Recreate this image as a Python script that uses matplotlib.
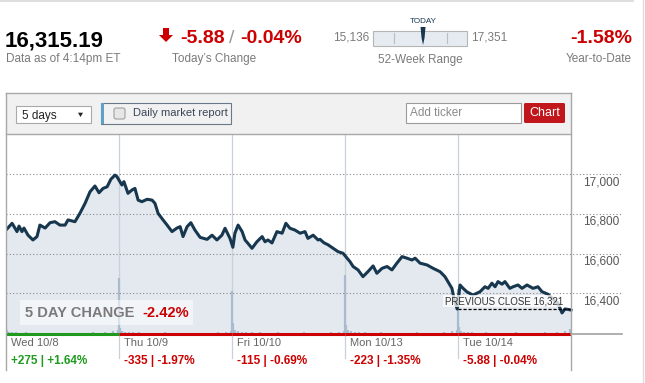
import numpy as np
import matplotlib
matplotlib.use('Agg')
import matplotlib.pyplot as plt
import matplotlib.patches as mpatches

plt.rcParams['font.family'] = ['Liberation Sans', 'DejaVu Sans']

# ---- quote summary ----
last_price = 16315.19
change_pts = -5.88
change_pct = -0.04
week52_low = 15136
week52_high = 17351
ytd_pct = -1.58
prev_close = 16321
five_day_pct = -2.42

day_names = ['Wed 10/8', 'Thu 10/9', 'Fri 10/10', 'Mon 10/13', 'Tue 10/14']
day_chg = [275, -335, -115, -223, -5.88]
day_chg_pct = [1.64, -1.97, -0.69, -1.35, -0.04]

# ---- intraday prices (minutes after the open, 390 min session) ----
wed_min = [0, 21, 38, 45, 55, 62, 76, 93, 107, 117, 135, 152, 169, 186, 204, 214,
           238, 255, 273, 290, 307, 321, 335, 349, 362, 376, 383, 390]
wed_px = [16719, 16753, 16711, 16739, 16711, 16729, 16693, 16669, 16686, 16744, 16729,
          16756, 16761, 16744, 16744, 16770, 16761, 16803, 16854, 16912, 16941, 16907,
          16929, 16937, 16975, 16996, 16988, 16971]
thu_min = [10, 17, 31, 45, 55, 66, 79, 97, 114, 124, 135, 152, 166, 183, 200, 211,
           221, 235, 248, 262, 280, 304, 321, 338, 355, 366, 383]
thu_px = [16946, 16963, 16904, 16921, 16929, 16870, 16862, 16874, 16870, 16854, 16803,
          16770, 16744, 16711, 16729, 16736, 16686, 16736, 16756, 16719, 16682, 16672,
          16693, 16669, 16693, 16728, 16677]
fri_min = [3, 10, 21, 35, 45, 55, 69, 86, 104, 114, 124, 138, 155, 173, 186, 200,
           217, 235, 252, 262, 280, 297, 304, 317, 331, 349, 366, 383]
fri_px = [16632, 16703, 16744, 16711, 16669, 16652, 16627, 16660, 16686, 16660, 16669,
          16654, 16711, 16703, 16753, 16728, 16719, 16703, 16711, 16677, 16693, 16669,
          16672, 16655, 16645, 16627, 16610, 16602]
mon_min = [7, 17, 28, 45, 62, 79, 97, 110, 128, 145, 162, 179, 197, 214, 231, 242,
           259, 283, 304, 328, 345, 355, 369, 376, 387]
mon_px = [16577, 16560, 16535, 16518, 16484, 16509, 16538, 16501, 16526, 16535, 16518,
          16552, 16585, 16577, 16568, 16577, 16552, 16543, 16526, 16509, 16484, 16459,
          16425, 16375, 16321]
tue_min = [7, 17, 31, 52, 76, 93, 104, 117, 128, 138, 152, 162, 179, 190, 207, 221,
           238, 259, 276, 290, 311, 328, 345, 359, 369, 383, 390]
tue_px = [16442, 16426, 16407, 16391, 16408, 16433, 16425, 16451, 16433, 16459, 16446,
          16459, 16425, 16433, 16442, 16425, 16442, 16425, 16433, 16408, 16395, 16370,
          16350, 16301, 16321, 16318, 16315]

# ---- volume (millions), same sampling minutes each day ----
vol_min = [1, 5, 10, 20, 35, 50, 70, 95, 125, 160, 200, 250, 300, 340, 370, 385]
wed_vol = [4.5, 2.0, 1.2, 1.0, 1.0, 0.8, 1.0, 0.8, 0.8, 0.6, 0.8, 0.8, 1.0, 1.0, 1.5, 2.0]
thu_vol = [28, 3.0, 1.5, 1.2, 1.0, 1.0, 1.2, 0.8, 0.8, 1.0, 0.8, 0.6, 0.8, 1.0, 1.2, 1.5]
fri_vol = [21.5, 5.5, 2.0, 1.5, 1.2, 1.0, 1.2, 1.0, 0.8, 1.0, 0.8, 1.0, 0.8, 1.0, 1.2, 1.5]
mon_vol = [29.5, 4.5, 2.0, 1.5, 1.2, 1.0, 1.0, 0.8, 1.0, 0.8, 0.8, 1.0, 0.8, 1.0, 1.5, 2.0]
tue_vol = [22.5, 3.5, 1.5, 1.2, 1.0, 1.0, 0.8, 1.0, 0.8, 0.8, 1.0, 0.8, 1.0, 1.2, 1.5, 2.5]

y_ticks = [16400, 16600, 16800, 17000]

# colours
NAVY = '#17374f'
FILL = '#e4e9f0'
VOLC = '#a9bccf'
RED = '#cc0000'
GREEN = '#1f9a1f'
GREY = '#7a7a7a'

W, H = 645, 383
fig = plt.figure(figsize=(W / 100, H / 100), dpi=100)

# chart area in pixels
AX_L, AX_R, AX_T, AX_B = 6, 622, 134, 334.3
DAY_W = 113
n_days = len(day_names)
x_max = (AX_R - AX_L) / DAY_W
y_lo, y_hi = 16193.3, 17203.2
VOL_TOP = 100.0   # volume that would fill the whole chart height

ax = fig.add_axes([AX_L / W, 1 - AX_B / H, (AX_R - AX_L) / W, (AX_B - AX_T) / H])
ax.set_axis_off()

mins = [wed_min, thu_min, fri_min, mon_min, tue_min]
prices = [wed_px, thu_px, fri_px, mon_px, tue_px]
vols = [wed_vol, thu_vol, fri_vol, mon_vol, tue_vol]
s = np.concatenate([i + np.array(m) / 390 for i, m in enumerate(mins)])
p = np.concatenate([np.array(v, float) for v in prices])

ax.fill_between(s, p, y_lo, color=FILL, lw=0, zorder=1)

# volume bars, scaled into the bottom of the price axis
vscale = (y_hi - y_lo) / VOL_TOP
vs = np.concatenate([i + np.array(vol_min) / 390 for i in range(n_days)])
vv = np.concatenate([np.array(v, float) for v in vols])
ax.vlines(vs, y_lo, y_lo + vv * vscale, color=VOLC, lw=1.6, zorder=2.2)

# day dividers
ymin_div = -(358 - AX_B) / (AX_B - AX_T)
for i in range(1, n_days):
    ax.axvline(i, ymin=ymin_div, ymax=1, color='#c9d0d8', lw=0.9, clip_on=False, zorder=1.5)

# dotted gridlines + labels
for v in y_ticks:
    ax.axhline(v, color='#8a8a8a', lw=0.8, ls=(0, (1, 2)), zorder=3)
    ax.annotate(f'{v:,}', xy=((619 - AX_L) / (AX_R - AX_L), v),
                xycoords=('axes fraction', 'data'), xytext=(0, -10.7 * 0.72),
                textcoords='offset points', ha='right', va='baseline',
                fontsize=8.5, color='#555555')

# price line
ax.plot(s, p, color=NAVY, lw=2.2, zorder=5)

# previous close
ax.plot([n_days - 1, n_days], [prev_close, prev_close], color='black', lw=0.9,
        ls=(0, (2.5, 1.5)), zorder=6)

# coloured baseline per day
for i, c in enumerate(day_chg):
    ax.plot([i, i + 1], [y_lo, y_lo], color=GREEN if c > 0 else RED, lw=2.2,
            solid_capstyle='butt', clip_on=False, zorder=7)
ax.plot([n_days, x_max], [y_lo, y_lo], color='#9a9a9a', lw=1.1, clip_on=False, zorder=7)

ax.set_xlim(0, x_max)
ax.set_ylim(y_lo, y_hi)

# ---- overlay in pixel coordinates ----
ov = fig.add_axes([0, 0, 1, 1], zorder=10)
ov.set_xlim(0, W)
ov.set_ylim(H, 0)
ov.set_axis_off()
ov.patch.set_alpha(0)

ov.plot([0, 633], [0.5, 0.5], color='#d8d8d8', lw=1.2)
ov.plot([643, 643], [0, H], color='#dddddd', lw=1.0)

# header
ov.text(5, 46, f'{last_price:,.2f}', fontsize=16, fontweight='bold', color='black', va='baseline')
ov.text(6, 62, 'Data as of 4:14pm ET', fontsize=8.5, color=GREY, va='baseline')

ov.add_patch(mpatches.Polygon([(163, 28), (169, 28), (169, 35), (173, 35), (166, 42),
                               (159, 35), (163, 35)], closed=True, color=RED, lw=0))
ov.text(180, 43, f'{change_pts:.2f}', fontsize=14, fontweight='bold', color=RED, va='baseline')
ov.text(229, 43, '/', fontsize=14, color='#999999', va='baseline')
ov.text(240, 43, f'{change_pct:.2f}%', fontsize=14, fontweight='bold', color=RED, va='baseline')
ov.text(172, 62, 'Today\u2019s Change', fontsize=8.5, color=GREY, va='baseline')

# 52 week range
bx0, bx1, by0, by1 = 373, 467, 30.7, 45.7
ov.add_patch(mpatches.Rectangle((bx0, by0), bx1 - bx0, by1 - by0, facecolor='#e6ebf1',
                                edgecolor='#b5b5b5', lw=0.8))
for f in (0.225, 0.785):
    xx = bx0 + f * (bx1 - bx0)
    ov.plot([xx, xx], [33, 43], color='#bdbdbd', lw=0.8)
mk = bx0 + (last_price - week52_low) / (week52_high - week52_low) * (bx1 - bx0)
ov.add_patch(mpatches.Polygon([(mk - 2.5, 27), (mk + 2.5, 27), (mk + 1.5, 38), (mk, 45),
                               (mk - 1.5, 38)], closed=True, color=NAVY, lw=0))
ov.text(mk, 22.7, 'TODAY', fontsize=5.8, color=NAVY, ha='center', va='baseline')
ov.text(369, 41, f'{week52_low:,}', fontsize=8.5, color=GREY, ha='right', va='baseline')
ov.text(471, 41, f'{week52_high:,}', fontsize=8.5, color=GREY, ha='left', va='baseline')
ov.text(420, 63, '52-Week Range', fontsize=8.5, color=GREY, ha='center', va='baseline')

ov.text(632, 43, f'{ytd_pct:.2f}%', fontsize=14, fontweight='bold', color=RED,
        ha='right', va='baseline')
ov.text(632, 62.5, 'Year-to-Date', fontsize=8.5, color=GREY, ha='right', va='baseline')

# control bar
PL, PR, PT = 5.7, 571, 93.3
ov.add_patch(mpatches.Rectangle((PL, PT), PR - PL, AX_T - PT, facecolor='#f1f1f1', lw=0))
BORDER = '#a8a8a8'
ov.plot([PL, PR], [PT, PT], color=BORDER, lw=1.0)
ov.plot([PL, PR], [AX_T, AX_T], color=BORDER, lw=1.0)
ov.plot([PL, PL], [PT, 370], color=BORDER, lw=1.0)
ov.plot([PR, PR], [PT, 370], color=BORDER, lw=1.0)

ov.add_patch(mpatches.Rectangle((16, 106), 74.7, 17, facecolor='white', edgecolor='#a9a9a9', lw=0.8))
ov.text(22, 118.5, '5 days', fontsize=8.5, color='#222222', va='baseline')
ov.add_patch(mpatches.Polygon([(78, 112.7), (83, 112.7), (80.5, 117)], closed=True, color='#222222', lw=0))

ov.add_patch(mpatches.Rectangle((101, 103), 130, 21, facecolor='#f1f1f1', edgecolor='#6a7888', lw=0.8))
ov.add_patch(mpatches.Rectangle((101, 103), 3, 21, facecolor='#5fa0c8', lw=0))
ov.add_patch(mpatches.FancyBboxPatch((114, 108), 11, 11, boxstyle='round,pad=0,rounding_size=2',
                                     facecolor='#e6e6e6', edgecolor='#a0a0a0', lw=0.8))
ov.text(133, 116.5, 'Daily market report', fontsize=8, color='#3a4656', va='baseline')

ov.add_patch(mpatches.Rectangle((406, 103), 115, 20, facecolor='white', edgecolor='#9a9a9a', lw=0.8))
ov.text(410, 116.5, 'Add ticker', fontsize=8.5, color='#8a8a8a', va='baseline')
ov.add_patch(mpatches.FancyBboxPatch((524, 103), 41, 20, boxstyle='round,pad=0,rounding_size=1.5',
                                     facecolor='#c1161c', lw=0))
ov.text(544.5, 116.5, 'Chart', fontsize=9, color='white', ha='center', va='baseline')

# 5 day change box
ov.add_patch(mpatches.Rectangle((20, 300), 173, 25, facecolor='white', alpha=0.55, lw=0))
ov.text(25, 317.3, '5 DAY CHANGE', fontsize=10.5, fontweight='bold', color=GREY, va='baseline')
ov.text(142, 317.3, f'{five_day_pct:.2f}%', fontsize=10.5, fontweight='bold', color=RED, va='baseline')

# previous close label
ov.add_patch(mpatches.Rectangle((443, 295), 124, 12, facecolor='white', alpha=0.75, lw=0))
ov.text(445, 304, f'PREVIOUS CLOSE {prev_close:,}', fontsize=7, color='#333333', va='baseline')

# day labels
for i, (nm, c, pc) in enumerate(zip(day_names, day_chg, day_chg_pct)):
    x0 = AX_L + i * DAY_W + 5
    ov.text(x0, 346.5, nm, fontsize=8, color='#666666', va='baseline')
    ov.text(x0, 364, f'{c:+g} | {pc:+.2f}%', fontsize=8.5, fontweight='bold',
            color=GREEN if c > 0 else RED, va='baseline')

fig.savefig('out.png', dpi=100)
